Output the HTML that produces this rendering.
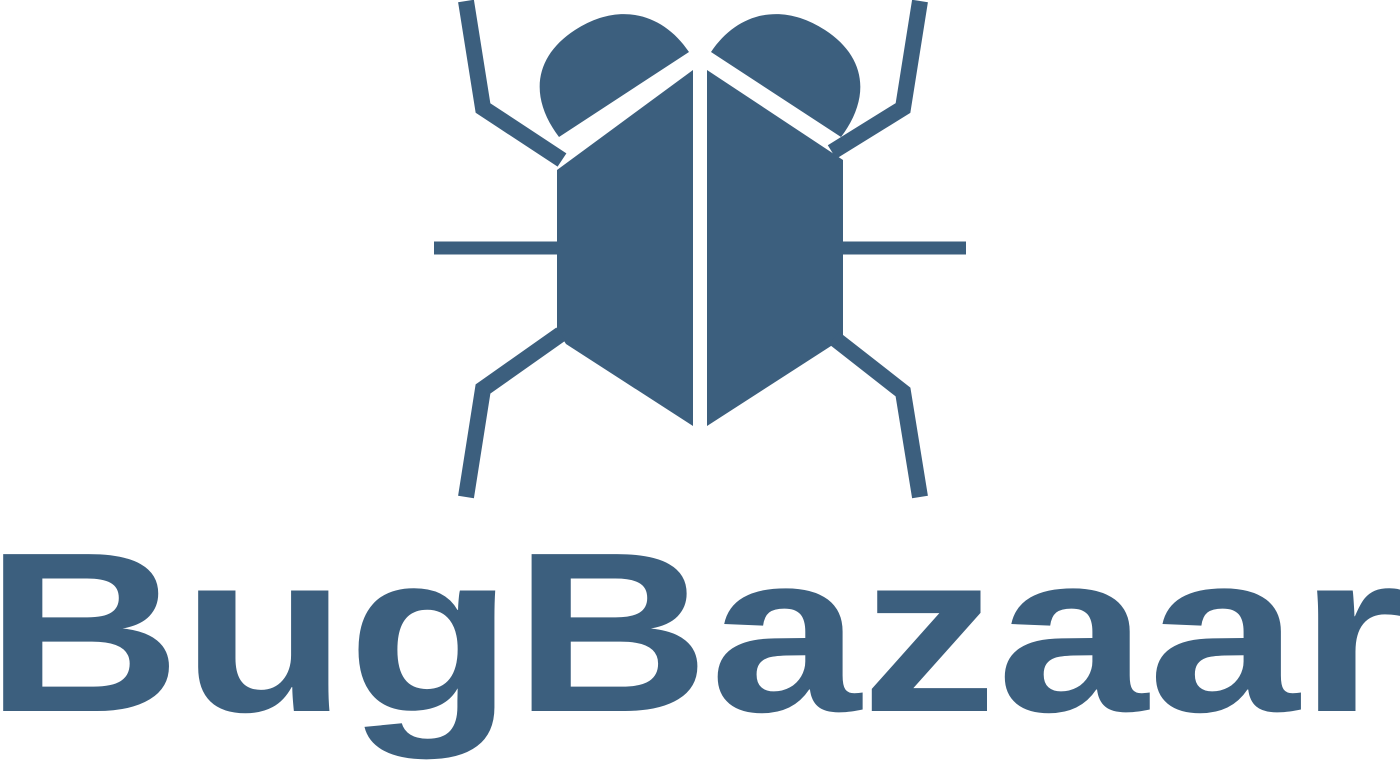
<!DOCTYPE html>
<html>
<head>
<meta charset="utf-8">
<style>
  html, body { margin:0; padding:0; background:#ffffff; }
  svg { display:block; }
</style>
</head>
<body>
<svg width="1400" height="772" viewBox="0 0 1400 772">
  <g fill="#3c5f7e" stroke="none">
    <g>
      <path d="M559,137 L689,52 C662,12 618,2 575,30 C535,56 528,96 559,137 Z"/>
      <polygon points="557,170 693,70 693,426 566,344 557,330"/>
      <polyline points="466,1 483,108 562,160" fill="none" stroke="#3c5f7e" stroke-width="16"/>
      <line x1="434" y1="248" x2="558" y2="248" stroke="#3c5f7e" stroke-width="13"/>
      <polyline points="561,334 483,389 466,497" fill="none" stroke="#3c5f7e" stroke-width="16"/>
    </g>
    <g transform="translate(1400,0) scale(-1,1)">
      <path d="M559,137 L689,52 C662,12 618,2 575,30 C535,56 528,96 559,137 Z"/>
      <polygon points="557,160 693,70 693,426 569,346 557,338"/>
      <polyline points="480,1 497,108 568,152" fill="none" stroke="#3c5f7e" stroke-width="16"/>
      <line x1="434" y1="248" x2="558" y2="248" stroke="#3c5f7e" stroke-width="13"/>
      <polyline points="566,338 497,392 480,497" fill="none" stroke="#3c5f7e" stroke-width="16"/>
    </g>
  </g>
  <text x="-15" y="711" font-family="'Liberation Sans', sans-serif" font-weight="bold" font-size="228" fill="#3c5f7e" textLength="1420" lengthAdjust="spacingAndGlyphs">BugBazaar</text>
</svg>
</body>
</html>
